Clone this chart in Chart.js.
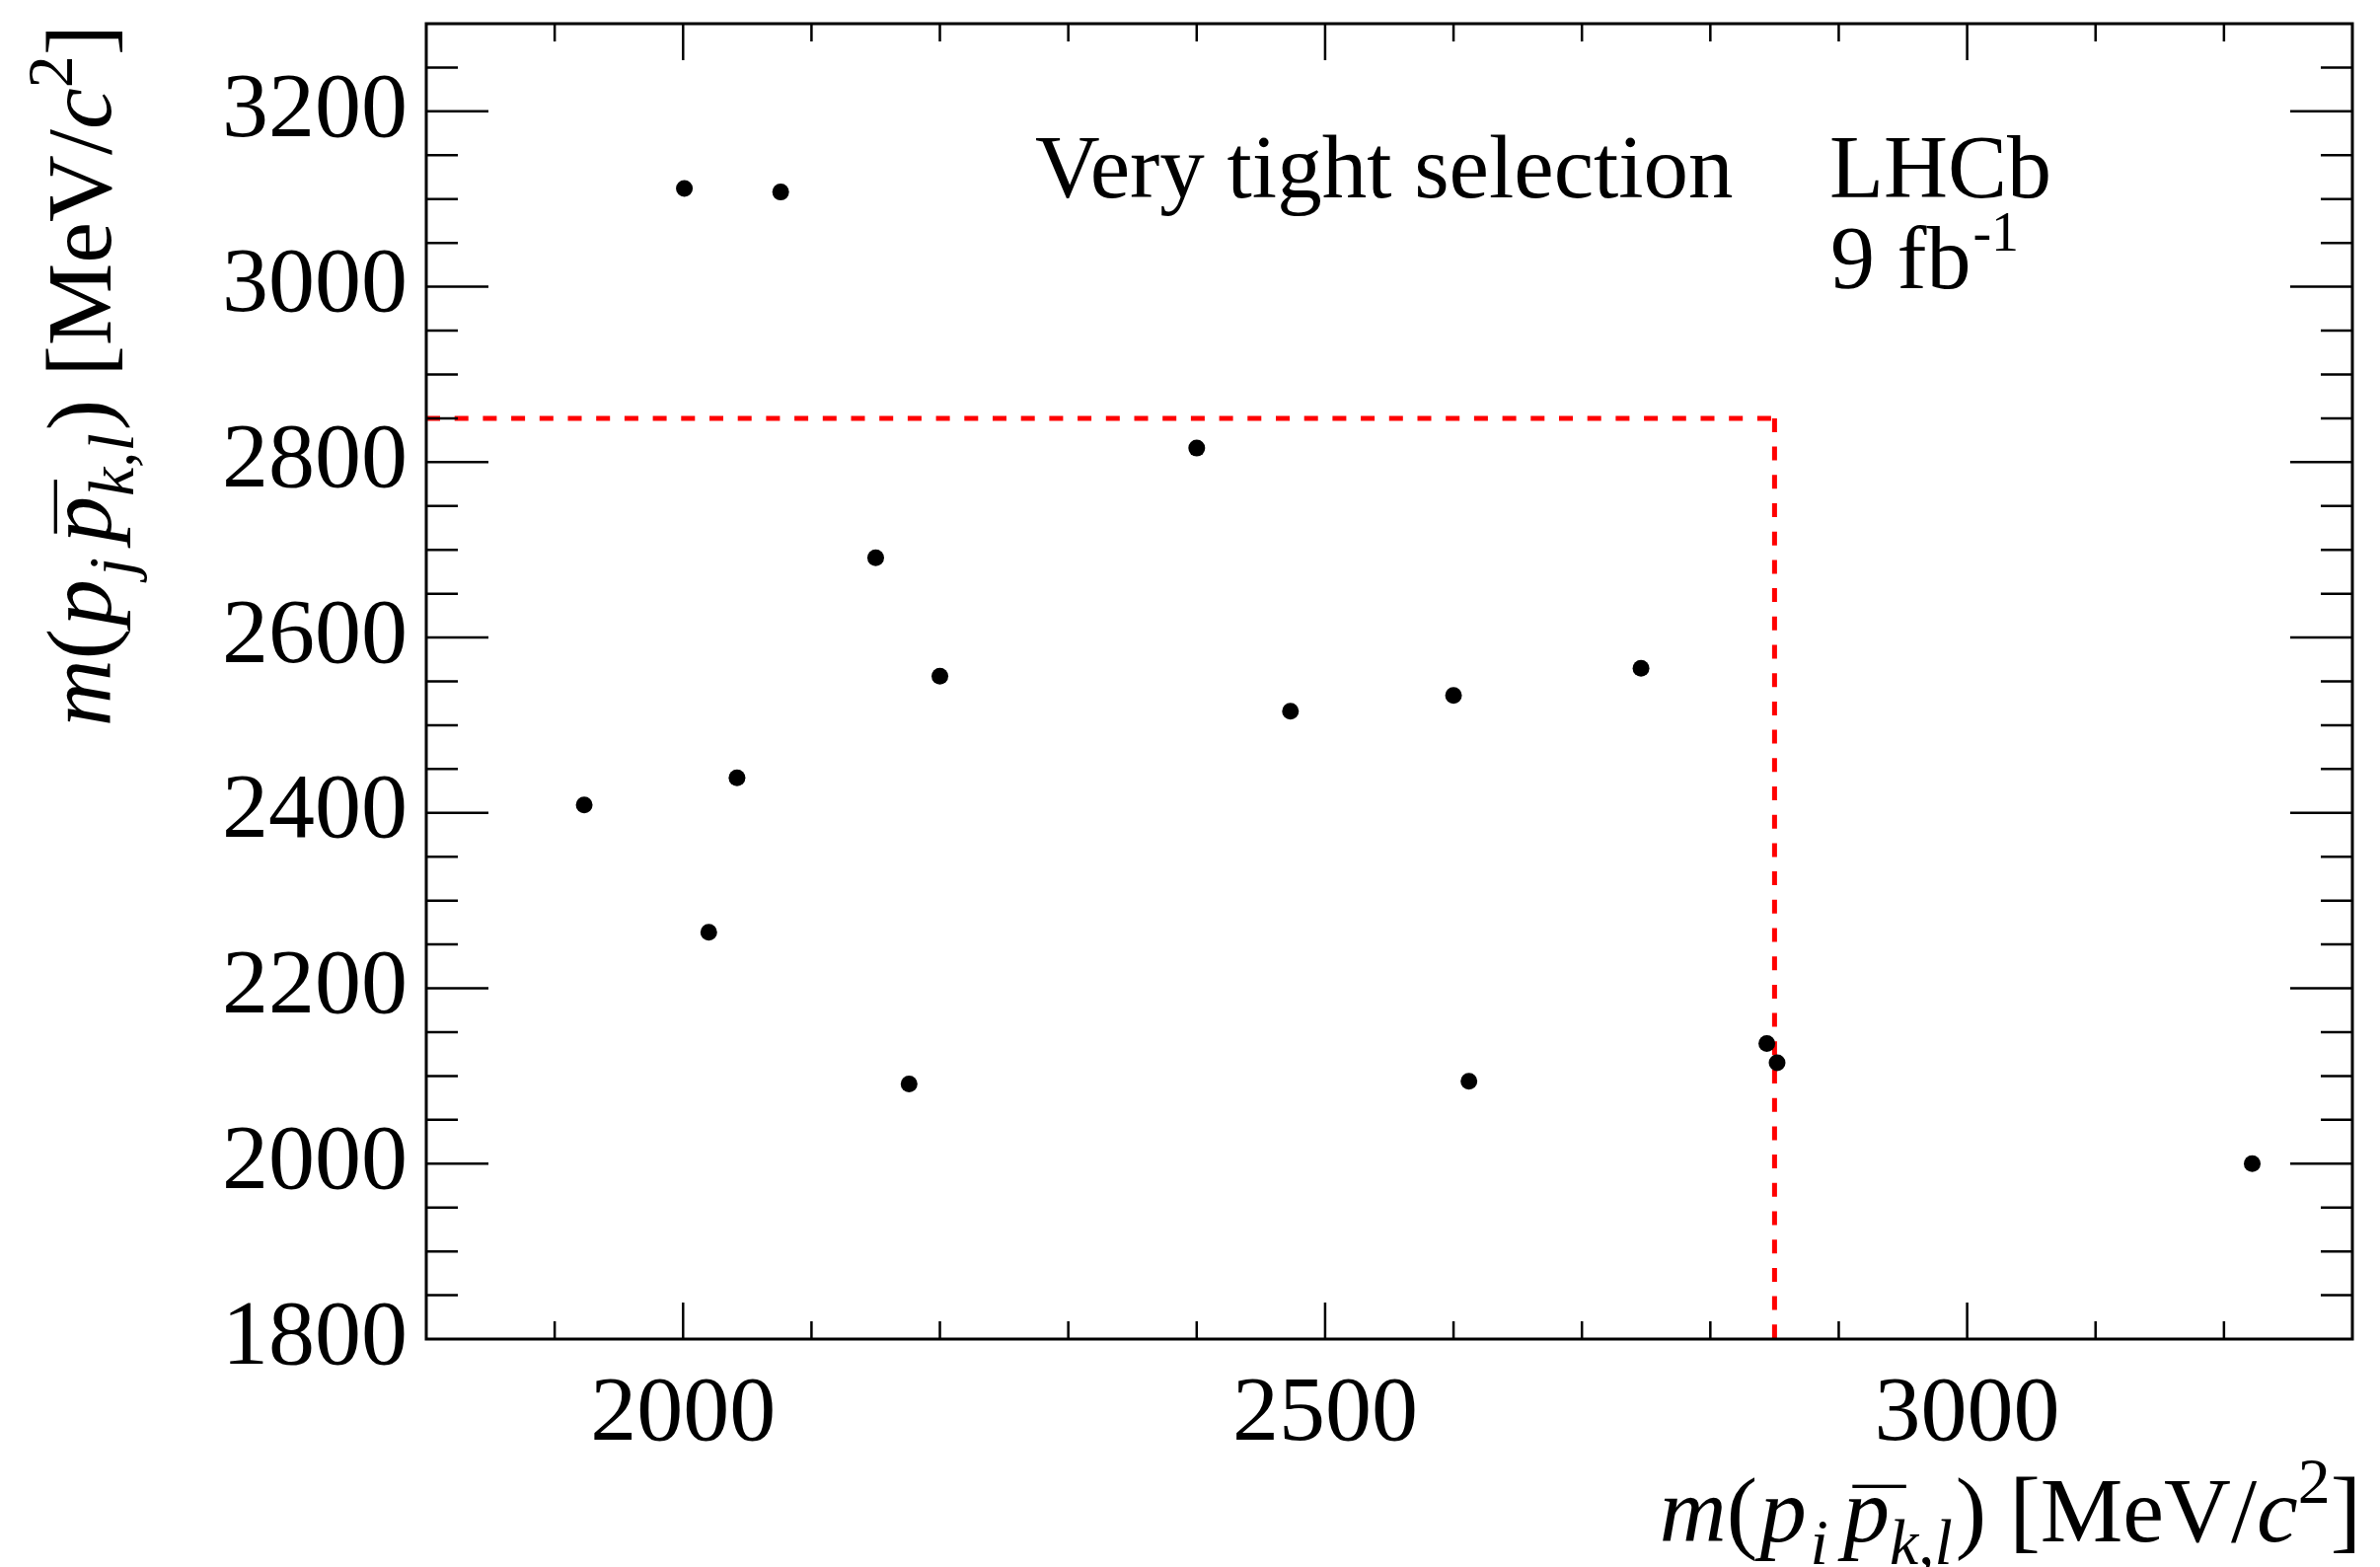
<!DOCTYPE html>
<html>
<head>
<meta charset="utf-8">
<script src="https://cdn.jsdelivr.net/npm/chart.js@4.4.0/dist/chart.umd.min.js"></script>
<style>
  html, body { margin: 0; padding: 0; background: #fff; }
  #wrap { width: 2412px; height: 1588px; }
</style>
</head>
<body>
<div id="wrap"><canvas id="plot"></canvas></div>
<script>
// candidates after the very tight selection
const massX = [2001, 2076, 2150, 2200, 1923, 2042, 2020, 2176, 2400, 2473, 2600, 2746, 2612, 2844, 2852, 3222];
const massY = [3112, 3108, 2691, 2556, 2409, 2440, 2264, 2091, 2816, 2516, 2534, 2565, 2094, 2137, 2115, 2000];

// signal region boundary (red dashed)
const cutX = 2850;
const cutY = 2850;

const xRange = [1800, 3300];
const yRange = [1800, 3300];
const xTicks = [2000, 2500, 3000];
const yTicks = [1800, 2000, 2200, 2400, 2600, 2800, 3000, 3200];
const xMinorStep = 100;
const yMinorStep = 50;

const FONT = '"Liberation Serif", "Times New Roman", serif';

// draws a run of text pieces (italic / sub / sup / overline), right aligned at (0,0)
function drawRich(ctx, parts, size) {
  const fontOf = p => {
    const s = (p.sub || p.sup) ? size * 0.7 : size;
    return (p.it ? 'italic ' : '') + s + 'px ' + FONT;
  };
  let total = 0;
  parts.forEach(p => {
    if (p.gap) { total += p.gap * size; return; }
    ctx.font = fontOf(p);
    p.w = ctx.measureText(p.t).width;
    total += p.w;
  });
  let x = -total;
  ctx.textAlign = 'left';
  ctx.textBaseline = 'alphabetic';
  parts.forEach(p => {
    if (p.gap) { x += p.gap * size; return; }
    ctx.font = fontOf(p);
    let dy = 0;
    if (p.sub) dy = 0.24 * size;
    if (p.sup) dy = -0.42 * size;
    ctx.fillText(p.t, x, dy);
    if (p.bar) {
      ctx.fillRect(x + 0.1 * size, -0.61 * size, 0.58 * size, 0.035 * size);
    }
    x += p.w;
  });
}

function titleParts(sub) {
  return [
    {t: 'm', it: true},
    {t: '('},
    {gap: 0.03},
    {t: 'p', it: true},
    {gap: 0.04},
    {t: sub, it: true, sub: true},
    {gap: 0.16},
    {t: 'p', it: true, bar: true},
    {t: 'k,l', it: true, sub: true},
    {gap: 0.03},
    {t: ')'},
    {t: ' [MeV/'},
    {t: 'c', it: true},
    {t: '2', sup: true},
    {t: ']'}
  ];
}

const rootStyle = {
  id: 'rootStyle',
  afterDraw(chart) {
    const {ctx, chartArea: a, scales: {x, y}} = chart;
    ctx.save();
    ctx.strokeStyle = '#000';
    ctx.fillStyle = '#000';

    // inward ticks on all four sides
    ctx.lineWidth = 2.5;
    ctx.beginPath();
    for (let v = xRange[0] + xMinorStep; v < xRange[1]; v += xMinorStep) {
      const px = x.getPixelForValue(v);
      const len = xTicks.includes(v) ? 37 : 18;
      ctx.moveTo(px, a.bottom); ctx.lineTo(px, a.bottom - len);
      ctx.moveTo(px, a.top); ctx.lineTo(px, a.top + len);
    }
    for (let v = yRange[0] + yMinorStep; v < yRange[1]; v += yMinorStep) {
      const py = y.getPixelForValue(v);
      const len = yTicks.includes(v) ? 63 : 32;
      ctx.moveTo(a.left, py); ctx.lineTo(a.left + len, py);
      ctx.moveTo(a.right, py); ctx.lineTo(a.right - len, py);
    }
    ctx.stroke();

    ctx.lineWidth = 3;
    ctx.strokeRect(a.left, a.top, a.right - a.left, a.bottom - a.top);

    // labels inside the frame
    ctx.textAlign = 'left';
    ctx.textBaseline = 'alphabetic';
    ctx.font = '91px ' + FONT;
    ctx.fillText('Very tight selection', 1049, 200);
    ctx.font = '90px ' + FONT;
    ctx.fillText('LHCb', 1854, 200);
    ctx.fillText('9 fb', 1855, 292);
    const w = ctx.measureText('9 fb').width;
    ctx.font = '56px ' + FONT;
    ctx.fillText('-1', 1855 + w + 2, 254);

    // axis titles
    ctx.save();
    ctx.translate(2393, 1562);
    drawRich(ctx, titleParts('i'), 94);
    ctx.restore();

    ctx.save();
    ctx.translate(112, 25);
    ctx.rotate(-Math.PI / 2);
    drawRich(ctx, titleParts('j'), 94);
    ctx.restore();

    ctx.restore();
  }
};

const points = massX.map((v, i) => ({x: v, y: massY[i]}));
const cutTop = [{x: xRange[0], y: cutY}, {x: cutX, y: cutY}];
const cutSide = [{x: cutX, y: cutY}, {x: cutX, y: yRange[0]}];

const tickFont = {family: FONT, size: 94};

new Chart('plot', {
  type: 'scatter',
  data: {
    datasets: [{
      data: points,
      pointRadius: 8.5,
      pointBackgroundColor: '#000',
      pointBorderWidth: 0,
      order: 0
    }, {
      data: cutTop,
      showLine: true,
      borderColor: '#ff0000',
      borderWidth: 5,
      borderDash: [14, 14.7],
      pointRadius: 0,
      order: 1
    }, {
      data: cutSide,
      showLine: true,
      borderColor: '#ff0000',
      borderWidth: 5,
      borderDash: [14, 14.7],
      pointRadius: 0,
      order: 1
    }]
  },
  options: {
    responsive: true,
    maintainAspectRatio: false,
    animation: false,
    layout: {padding: {left: 0, top: 24, right: 28, bottom: 0}},
    plugins: {legend: {display: false}, tooltip: {enabled: false}, title: {display: false}},
    scales: {
      x: {
        type: 'linear',
        min: xRange[0],
        max: xRange[1],
        afterBuildTicks: s => { s.ticks = xTicks.map(v => ({value: v})); },
        afterFit: s => { s.height = 231; s.paddingLeft = 0; s.paddingRight = 0; },
        grid: {display: false, drawTicks: false},
        border: {display: false},
        ticks: {color: '#000', font: tickFont, padding: 21, maxRotation: 0, autoSkip: false, callback: v => String(v)}
      },
      y: {
        type: 'linear',
        min: yRange[0],
        max: yRange[1],
        afterBuildTicks: s => { s.ticks = yTicks.map(v => ({value: v})); },
        afterFit: s => { s.width = 432; s.paddingTop = 0; s.paddingBottom = 0; },
        grid: {display: false, drawTicks: false},
        border: {display: false},
        ticks: {color: '#000', font: tickFont, padding: 19, autoSkip: false, callback: v => String(v)}
      }
    }
  },
  plugins: [rootStyle]
});
</script>
</body>
</html>
